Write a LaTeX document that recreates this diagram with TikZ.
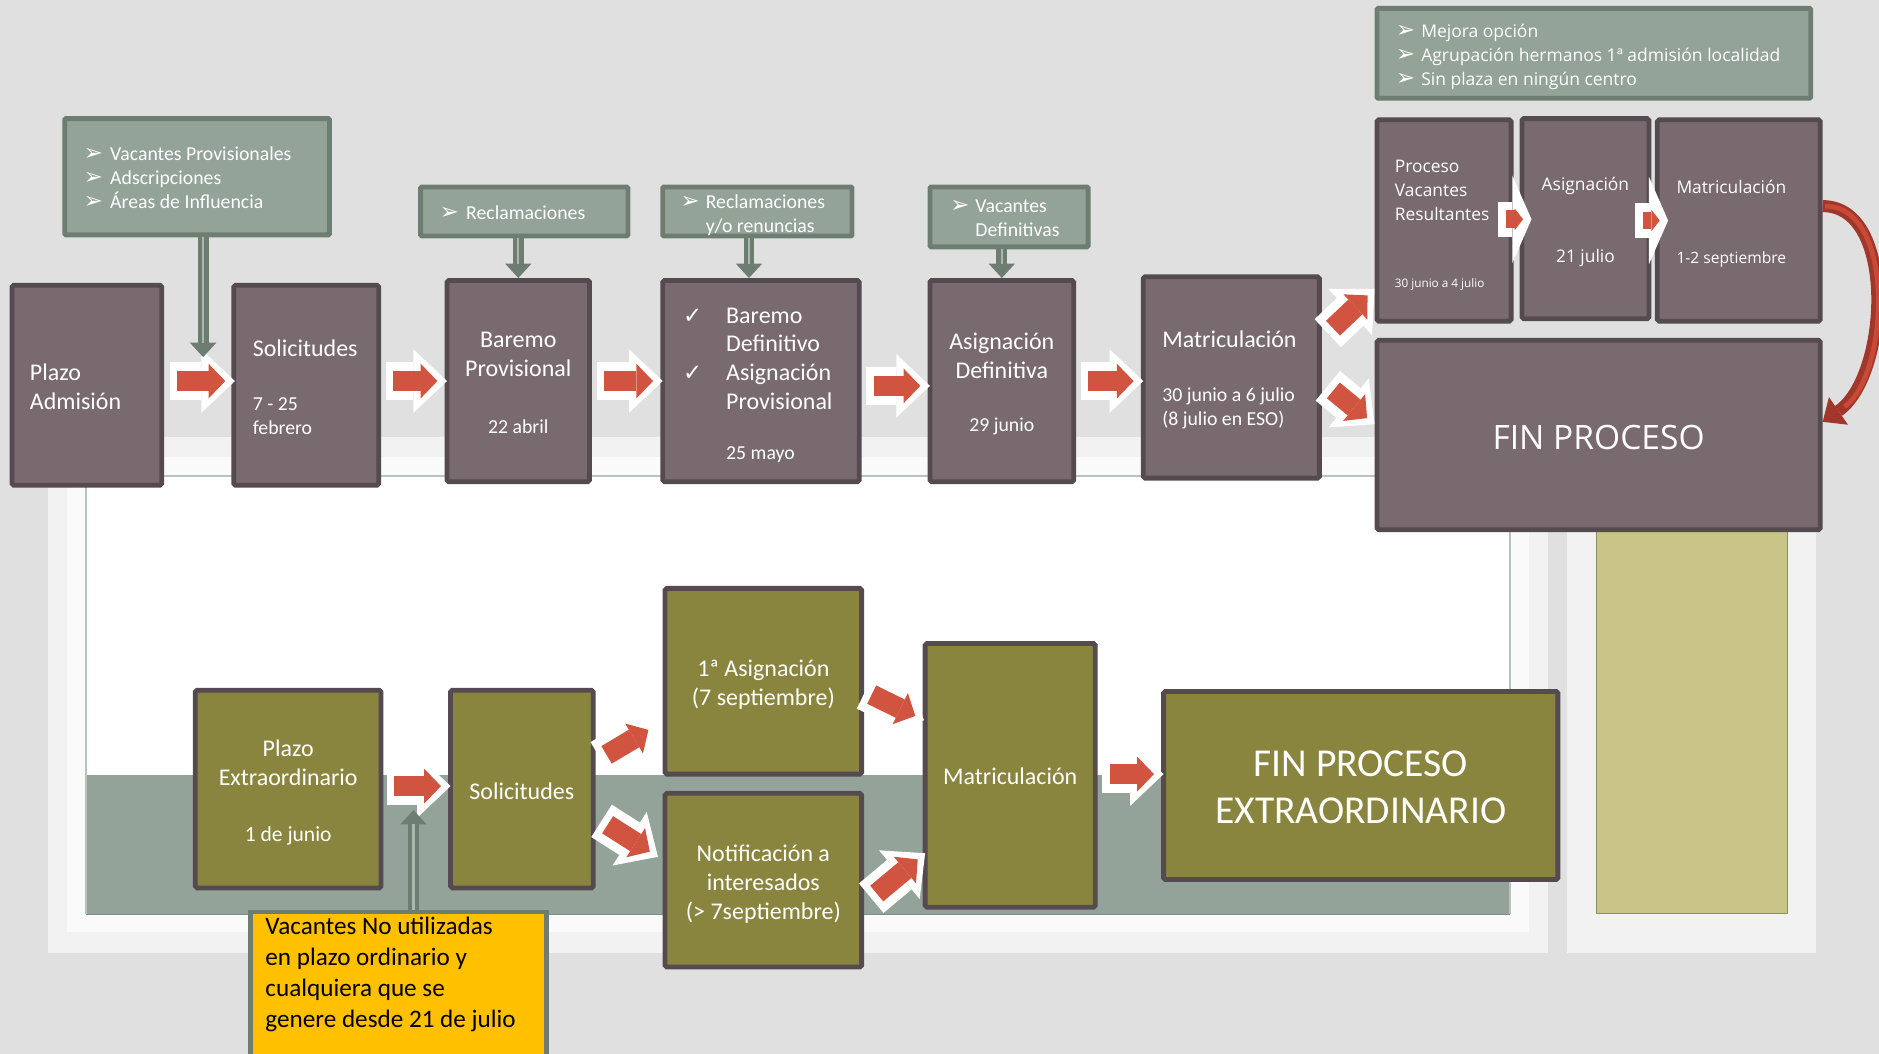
\documentclass[tikz,border=0pt]{standalone}
\usepackage{fontspec}
\setmainfont{Carlito}
\newfontfamily\osans{Open Sans}
\newfontfamily\djv{DejaVu Sans}
\usetikzlibrary{arrows.meta,calc}
\newcommand\fsz[2]{\fontsize{#1pt}{#2pt}\selectfont}
\newcommand\bul{{\djv\fontsize{19}{19}\selectfont ➢}}
\newcommand\bi{\makebox[22pt][l]{\bul}}
\newcommand\chk{{\djv\fontsize{19}{19}\selectfont ✓}}
\newcommand\Lpb[3][5]{\parbox{#2pt}{\vspace*{#1pt}\selectfont\raggedright #3}}
\newcommand\Cpb[3][5]{\parbox{#2pt}{\vspace*{#1pt}\selectfont\centering #3}}
\definecolor{bg}{HTML}{E0E0E0}
\definecolor{panelA}{HTML}{F2F2F2}
\definecolor{panelB}{HTML}{FAFAFA}
\definecolor{band}{HTML}{93A39A}
\definecolor{bandline}{HTML}{7F8F86}
\definecolor{gline}{HTML}{BAC2BE}
\definecolor{mauve}{HTML}{796A70}
\definecolor{bdark}{HTML}{544A4F}
\definecolor{olive}{HTML}{8A853E}
\definecolor{nfill}{HTML}{93A398}
\definecolor{nborder}{HTML}{6D7D71}
\definecolor{nlight}{HTML}{A9B7AD}
\definecolor{khaki}{HTML}{C9C487}
\definecolor{khakiline}{HTML}{8F8C5C}
\definecolor{yel}{HTML}{FFC000}
\definecolor{ared}{HTML}{D05440}
\definecolor{cdark}{HTML}{A0372A}
\definecolor{clight}{HTML}{C84A36}
\newcommand\blkA[2]{\draw[wideA] #1 -- #2; \draw[redA] #1 -- #2;}
\newcommand\blkS[2]{\draw[wideS] #1 -- #2; \draw[redS] #1 -- #2;}
\begin{document}
\begin{tikzpicture}[x=1pt,y=-1pt,
  mbox/.style={draw=bdark, line width=4pt, fill=mauve, text=white, inner sep=0pt, rounded corners=1.5pt, font=\fsz{20}{24}},
  obox/.style={mbox, fill=olive},
  notebox/.style={draw=nborder, line width=4pt, fill=nfill, text=white, inner sep=0pt, rounded corners=1pt, font=\fsz{16.5}{20}},
  wideA/.style={white, line width=32pt, -{Triangle[length=28pt,width=53pt,line width=0pt]}},
  redA/.style={ared, line width=17pt, shorten <=6pt, shorten >=8pt, -{Triangle[length=14pt,width=29pt,line width=0pt]}},
  wideS/.style={white, line width=29pt, -{Triangle[length=16pt,width=73pt,line width=0pt]}},
  redS/.style={ared, line width=15pt, shorten <=7pt, shorten >=7pt, -{Triangle[length=7pt,width=18pt,line width=0pt]}},
  varr/.style={nborder, line width=9pt, -{Triangle[length=12pt,width=22pt,line width=0pt]}},
  varrin/.style={nlight, line width=2pt, shorten >=12pt}]
\useasboundingbox (0,0) rectangle (1568,879.55);
% background and panels
\fill[bg] (0,0) rectangle (1568,879.55);
\fill[panelA] (40,365) rectangle (1292,795);
\fill[panelB] (56,381) rectangle (1276,778);
\fill[white] (72,397) rectangle (1260,763);
\fill[band] (72,647) rectangle (1260,763);
\draw[gline, line width=1.5pt] (72,763) -- (72,397) -- (1260,397) -- (1260,763);
\draw[bandline, line width=1pt] (72,763) -- (1260,763);
\fill[panelA] (1308,365) rectangle (1515,795);
\filldraw[fill=khaki, draw=khakiline, line width=0.8pt] (1332,440) rectangle (1492,762);

% top row
\node[mbox, minimum width=125pt, minimum height=167pt] (plazo) at (72.5,321.5) {\Lpb[3]{95}{Plazo\\Admisión}};
\node[mbox, minimum width=121pt, minimum height=167pt] (sol) at (255.5,321.5) {\Lpb[4]{89}{Solicitudes\\[25pt]\fsz{16.5}{20}7 - 25\\febrero}};
\node[mbox, minimum width=119pt, minimum height=168pt] (barprov) at (432.5,318) {\Cpb[3]{110}{Baremo\\Provisional\\[28pt]\fsz{16.5}{20}22 abril}};
\node[mbox, minimum width=164pt, minimum height=168pt] (bardef) at (635,318) {\Lpb[7]{130}{\makebox[36pt][l]{\chk}Baremo\\\hspace*{36pt}Definitivo\\\makebox[36pt][l]{\chk}Asignación\\\hspace*{36pt}Provisional\\[22pt]\fsz{16.5}{20}\hspace*{36pt}25 mayo}};
\node[mbox, minimum width=120pt, minimum height=168pt] (asigdef) at (836,318) {\Cpb[5]{110}{Asignación\\Definitiva\\[25pt]\fsz{16.5}{20}29 junio}};
\node[mbox, minimum width=147pt, minimum height=168pt] (matric) at (1027.5,315) {\Lpb[4]{115}{Matriculación\\[25pt]\fsz{16.5}{20}30 junio a 6 julio\\(8 julio en ESO)}};

% right group
\node[mbox, font=\osans\fsz{14.5}{20}, minimum width=112pt, minimum height=168pt] (proc) at (1205,184) {\Lpb[8]{82}{Proceso\\Vacantes\\Resultantes\\[43.5pt]\fsz{9.8}{12}30 junio a 4 julio}};
\node[mbox, font=\osans\fsz{14.5}{20}, minimum width=106pt, minimum height=167pt] (asig2) at (1323,182.5) {\Cpb[6]{100}{Asignación\\[40pt]21 julio}};
\node[mbox, font=\osans\fsz{14.5}{20}, minimum width=136pt, minimum height=168pt] (matric2) at (1451,184) {\Lpb[6]{104}{Matriculación\\[40.5pt]\fsz{13}{18}1-2 septiembre}};
\node[mbox, font=\osans\fsz{28}{34}, minimum width=370pt, minimum height=158pt] (fin) at (1334,363) {\Cpb[4]{360}{FIN PROCESO}};
\node[notebox, font=\osans\fsz{14.6}{20}, minimum width=362pt, minimum height=75pt] (note5) at (1330,44.5) {\Lpb[6]{330}{\makebox[21pt][l]{\bul}Mejora opción\\\makebox[21pt][l]{\bul}Agrupación hermanos 1ª admisión localidad\\\makebox[21pt][l]{\bul}Sin plaza en ningún centro}};

% notes
\node[notebox, minimum width=221pt, minimum height=97pt] (note1) at (164.5,147.5) {\Lpb[2]{189}{\bi Vacantes Provisionales\\\bi Adscripciones\\\bi Áreas de Influencia}};
\node[notebox, minimum width=173pt, minimum height=41pt] (note2) at (437.5,176.5) {\Lpb[2]{141}{\bi Reclamaciones}};
\node[notebox, minimum width=158pt, minimum height=41pt] (note3) at (632,176.5) {\Lpb[6]{128}{\makebox[21pt][l]{\bul}Reclamaciones\\\hspace*{21pt}y/o renuncias}};
\node[notebox, minimum width=132pt, minimum height=50pt] (note4) at (842,181) {\Lpb[2]{98}{\makebox[21pt][l]{\bul}Vacantes\\\hspace*{21pt}Definitivas}};

% bottom row
\node[obox, minimum width=155pt, minimum height=165pt] (pext) at (240.5,658.5) {\Cpb[6]{150}{Plazo\\Extraordinario\\[24.5pt]\fsz{18}{22}1 de junio}};
\node[obox, minimum width=119pt, minimum height=165pt] (sol2) at (435.5,658.5) {\Cpb[4]{110}{Solicitudes}};
\node[obox, minimum width=164pt, minimum height=155pt] (asig1) at (637,568.5) {\Cpb[6]{150}{1ª Asignación\\(7 septiembre)}};
\node[obox, minimum width=164pt, minimum height=145pt] (notif) at (637,734.5) {\Cpb[7]{150}{Notificación a\\interesados\\(> 7septiembre)}};
\node[obox, minimum width=142pt, minimum height=220pt] (matric3) at (843,647) {\Cpb[2]{135}{Matriculación}};
\node[obox, font=\fsz{33}{40}, minimum width=329pt, minimum height=157pt] (finx) at (1135.5,655.5) {\Cpb[3]{320}{FIN PROCESO\\EXTRAORDINARIO}};
\node[draw=nborder, line width=4pt, fill=yel, text=black, inner xsep=0pt, inner ysep=4pt, minimum width=247pt, font=\fsz{21}{26}, text depth=105pt, anchor=north] (ybox) at (332.5,759) {\parbox[t]{222pt}{\selectfont\raggedright Vacantes No utilizadas\\en plazo ordinario y\\cualquiera que se\\genere desde 21 de julio}};

% block arrows
\blkA{([shift={(5,-3.5)}]plazo.east)}{([shift={(3,-3.5)}]sol.west)}
\blkA{([shift={(4,-3.5)}]sol.east)}{([shift={(2,0)}]barprov.west)}
\blkA{([shift={(4,0)}]barprov.east)}{([shift={(2,0)}]bardef.west)}
\blkA{([shift={(4,4)}]bardef.east)}{([shift={(2,4)}]asigdef.west)}
\blkA{([shift={(4,0)}]asigdef.east)}{([shift={(2,3)}]matric.west)}
\blkA{([shift={(5,-37)}]matric.east)}{([shift={(0,-29)}]proc.south west)}
\blkA{([shift={(5,7)}]matric.east)}{([shift={(0,-9)}]fin.west)}
\blkS{([shift={(-13,-1)}]proc.east)}{([shift={(10,0.5)}]asig2.west)}
\blkS{([shift={(-14,1.5)}]asig2.east)}{([shift={(11,0)}]matric2.west)}
\blkA{([shift={(3,-2.5)}]pext.east)}{([shift={(2,-2.5)}]sol2.west)}
\blkA{([shift={(4,-25.5)}]sol2.east)}{([shift={(-5,36.5)}]asig1.west)}
\blkA{([shift={(5,26.5)}]sol2.east)}{([shift={(-4,-19.5)}]notif.west)}
\blkA{([shift={(1,8.5)}]asig1.east)}{([shift={(1,-46)}]matric3.west)}
\blkA{([shift={(6,15)}]notif.east)}{([shift={(2,65)}]matric3.west)}
\blkA{([shift={(4,-1)}]matric3.east)}{([shift={(2,-9.5)}]finx.west)}

% note arrows
\coordinate (n1tip) at (169.5,298);
\coordinate (ytip) at (345,676);
\draw[varr] (note1.south -| n1tip) -- (n1tip);
\draw[varrin] (note1.south -| n1tip) -- (n1tip);
\draw[varr] (note2.south -| barprov.north) -- (barprov.north);
\draw[varrin] (note2.south -| barprov.north) -- (barprov.north);
\draw[varr] ([xshift=-7pt]note3.south) -- ([xshift=-7pt]note3.south |- bardef.north);
\draw[varrin] ([xshift=-7pt]note3.south) -- ([xshift=-7pt]note3.south |- bardef.north);
\draw[varr] (note4.south -| asigdef.north) -- (asigdef.north);
\draw[varrin] (note4.south -| asigdef.north) -- (asigdef.north);
\draw[varr] (ybox.north -| ytip) -- (ytip);
\draw[varrin] (ybox.north -| ytip) -- (ytip);

% curved arrow
\draw[cdark, line width=10pt, -{Triangle[length=16pt,width=28pt,line width=0pt]}] ([yshift=12pt]matric2.east) .. controls +(62,0) and +(55,-38) .. ([yshift=11pt]fin.east);
\draw[clight, line width=4pt, shorten <=2pt, shorten >=22pt] ([yshift=12pt]matric2.east) .. controls +(62,0) and +(55,-38) .. ([yshift=11pt]fin.east);
\end{tikzpicture}
\end{document}
